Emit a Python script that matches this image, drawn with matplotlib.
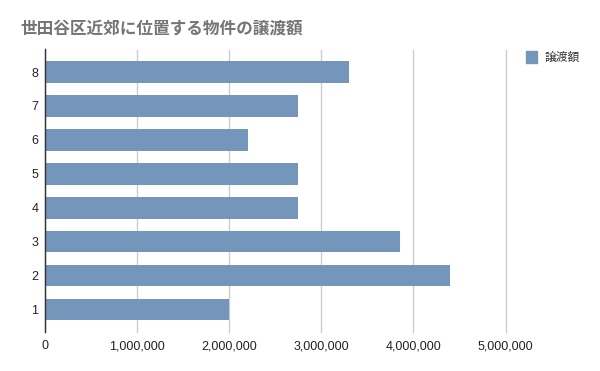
import matplotlib
matplotlib.use("Agg")
import matplotlib.pyplot as plt
from matplotlib.ticker import FuncFormatter, MultipleLocator

categories = ["1", "2", "3", "4", "5", "6", "7", "8"]
values = [2000000, 4400000, 3850000, 2750000, 2750000, 2200000, 2750000, 3300000]
series_name = "譲渡額"
title = "世田谷区近郊に位置する物件の譲渡額"

plt.rcParams['font.family'] = ['Liberation Sans', 'Noto Sans CJK JP', 'DejaVu Sans']

W, H = 600, 371
fig = plt.figure(figsize=(W / 100, H / 100), dpi=100)
left, right = 45.3, 505.5
top, bottom = 49.5, 332.0
ax = fig.add_axes([left / W, 1 - bottom / H, (right - left) / W, (bottom - top) / H])

bar_color = "#7496BA"
pos = list(range(1, len(categories) + 1))
ax.barh(pos, values, height=0.64, color=bar_color, zorder=3, label=series_name)

ax.set_xlim(0, 5000000)
ax.set_ylim(0.335, 8.665)
ax.xaxis.set_major_locator(MultipleLocator(1000000))
ax.xaxis.set_major_formatter(FuncFormatter(lambda v, p: f"{int(v):,}"))
ax.set_yticks(pos)
ax.set_yticklabels(categories)
ax.grid(axis='x', color="#cccccc", linewidth=1, zorder=0)
for gl in ax.get_xgridlines():
    gl.set_clip_on(False)
for s in ['top', 'right', 'bottom']:
    ax.spines[s].set_visible(False)
ax.spines['left'].set_color("#333333")
ax.spines['left'].set_linewidth(1)
ax.spines['left'].set_zorder(4)
ax.tick_params(axis='both', length=0, labelsize=9, colors="#222222")
ax.tick_params(axis='y', pad=5)
ax.tick_params(axis='x', pad=6)

fig.text(20 / W, 1 - 28 / H, title, fontsize=12, fontweight='bold', color="#757575",
         ha='left', va='center', family=['Noto Sans CJK JP', 'DejaVu Sans'])

# legend
fig.patches.append(plt.Rectangle((525.7 / W, 1 - 62.7 / H), 11.3 / W, 11.3 / H,
                                 transform=fig.transFigure, color=bar_color, figure=fig))
fig.text(545 / W, 1 - 57 / H, series_name, fontsize=8.5, color="#333333",
         ha='left', va='center', family=['Noto Sans CJK JP', 'DejaVu Sans'])

fig.savefig("out.png", dpi=100, facecolor="white")
